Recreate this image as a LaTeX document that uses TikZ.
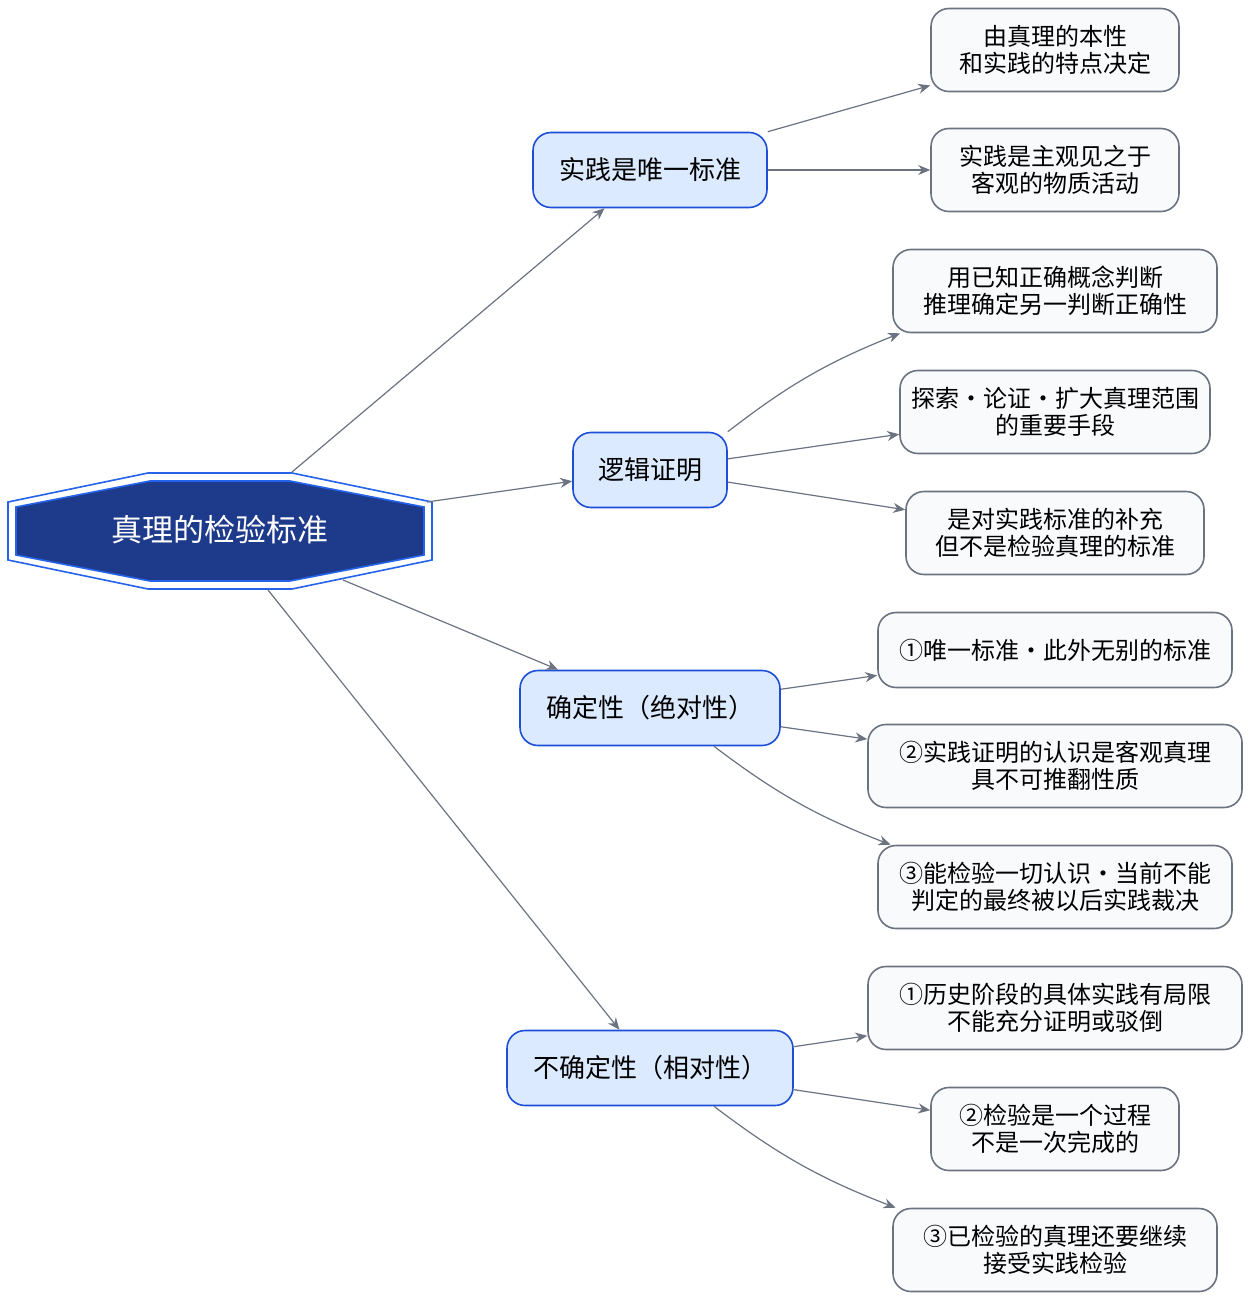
\documentclass[tikz,border=0pt]{standalone}
\usepackage{fontspec}
\setmainfont{Noto Sans CJK SC}
\usetikzlibrary{arrows.meta}
\definecolor{rootfill}{HTML}{1E3A8A}
\definecolor{rootline}{HTML}{2563EB}
\definecolor{midfill}{HTML}{DBEAFE}
\definecolor{midline}{HTML}{1D4ED8}
\definecolor{leaffill}{HTML}{F8FAFC}
\definecolor{leafline}{HTML}{6B7280}
\definecolor{edgecol}{HTML}{6B7280}
\tikzset{mid/.style={draw=midline, fill=midfill, line width=0.8pt, rounded corners=9pt, minimum height=37.5pt, font=\fontsize{13}{15}\selectfont}}
\tikzset{leaf/.style={draw=leafline, fill=leaffill, line width=0.8pt, rounded corners=9pt, minimum height=41.5pt, align=center, font=\fontsize{12}{13.5}\selectfont}}
\tikzset{ed/.style={draw=edgecol, line width=0.6pt, -{Stealth[length=6pt,width=5pt]}}}

\begin{document}
\begin{tikzpicture}[x=0.5pt, y=-0.5pt]
        \useasboundingbox (0,0) rectangle (1250,1300);

        % root: double octagon
        \draw[rootline, line width=0.8pt, fill=white] (8,502) -- (148,473) -- (292,473) -- (432,502) -- (432,560) -- (292,589) -- (148,589) -- (8,560) -- cycle;
        \draw[rootline, line width=0.8pt, fill=rootfill] (16,507) -- (150,481) -- (290,481) -- (424,507) -- (424,555) -- (290,581) -- (150,581) -- (16,555) -- cycle;
        \node[text=white, font=\fontsize{15.5}{18}\selectfont] (root) at (220,530) {真理的检验标准};
        \coordinate (r1) at (292,472);
        \coordinate (r2) at (427,502);
        \coordinate (r3) at (343,580);
        \coordinate (r4) at (268,590);

        \node[mid, minimum width=117pt] (only) at (650,170) {实践是唯一标准};
        \node[mid, minimum width=77pt] (logic) at (650,470) {逻辑证明};
        \node[mid, minimum width=130pt] (abs) at (650,708) {确定性（绝对性）};
        \node[mid, minimum width=143pt] (rel) at (650,1068) {不确定性（相对性）};

        \node[leaf, minimum width=124pt] (o1) at (1055,50) {由真理的本性\\和实践的特点决定};
        \node[leaf, minimum width=124pt] (o2) at (1055,170) {实践是主观见之于\\客观的物质活动};
        \node[leaf, minimum width=162pt] (l1) at (1055,291) {用已知正确概念判断\\推理确定另一判断正确性};
        \node[leaf, minimum width=155pt] (l2) at (1055,412) {探索·论证·扩大真理范围\\的重要手段};
        \node[leaf, minimum width=149pt] (l3) at (1055,533) {是对实践标准的补充\\但不是检验真理的标准};
        \node[leaf, minimum width=177pt, minimum height=37.5pt] (a1) at (1055,650) {①唯一标准·此外无别的标准};
        \node[leaf, minimum width=187pt] (a2) at (1055,766) {②实践证明的认识是客观真理\\具不可推翻性质};
        \node[leaf, minimum width=177pt] (a3) at (1055,887) {③能检验一切认识·当前不能\\判定的最终被以后实践裁决};
        \node[leaf, minimum width=187pt] (e1) at (1055,1008) {①历史阶段的具体实践有局限\\不能充分证明或驳倒};
        \node[leaf, minimum width=124pt] (e2) at (1055,1129) {②检验是一个过程\\不是一次完成的};
        \node[leaf, minimum width=162pt] (e3) at (1055,1250) {③已检验的真理还要继续\\接受实践检验};

        \draw[ed] (r1) -- (only);
        \draw[ed] (r2) -- (logic);
        \draw[ed] (r3) -- (abs);
        \draw[ed] (r4) -- (rel);

        \draw[ed] (only.north east) -- (o1);
        \draw[ed] (only) -- (o2);
        \draw[ed] (logic.north east) to[bend left=8] (l1);
        \draw[ed] (logic) -- (l2);
        \draw[ed] (logic) -- (l3);
        \draw[ed] (abs) -- (a1);
        \draw[ed] (abs) -- (a2);
        \draw[ed] ([xshift=32pt]abs.south) to[bend right=8] (a3);
        \draw[ed] (rel) -- (e1);
        \draw[ed] (rel) -- (e2);
        \draw[ed] ([xshift=32pt]rel.south) to[bend right=8] (e3);
\end{tikzpicture}
\end{document}
